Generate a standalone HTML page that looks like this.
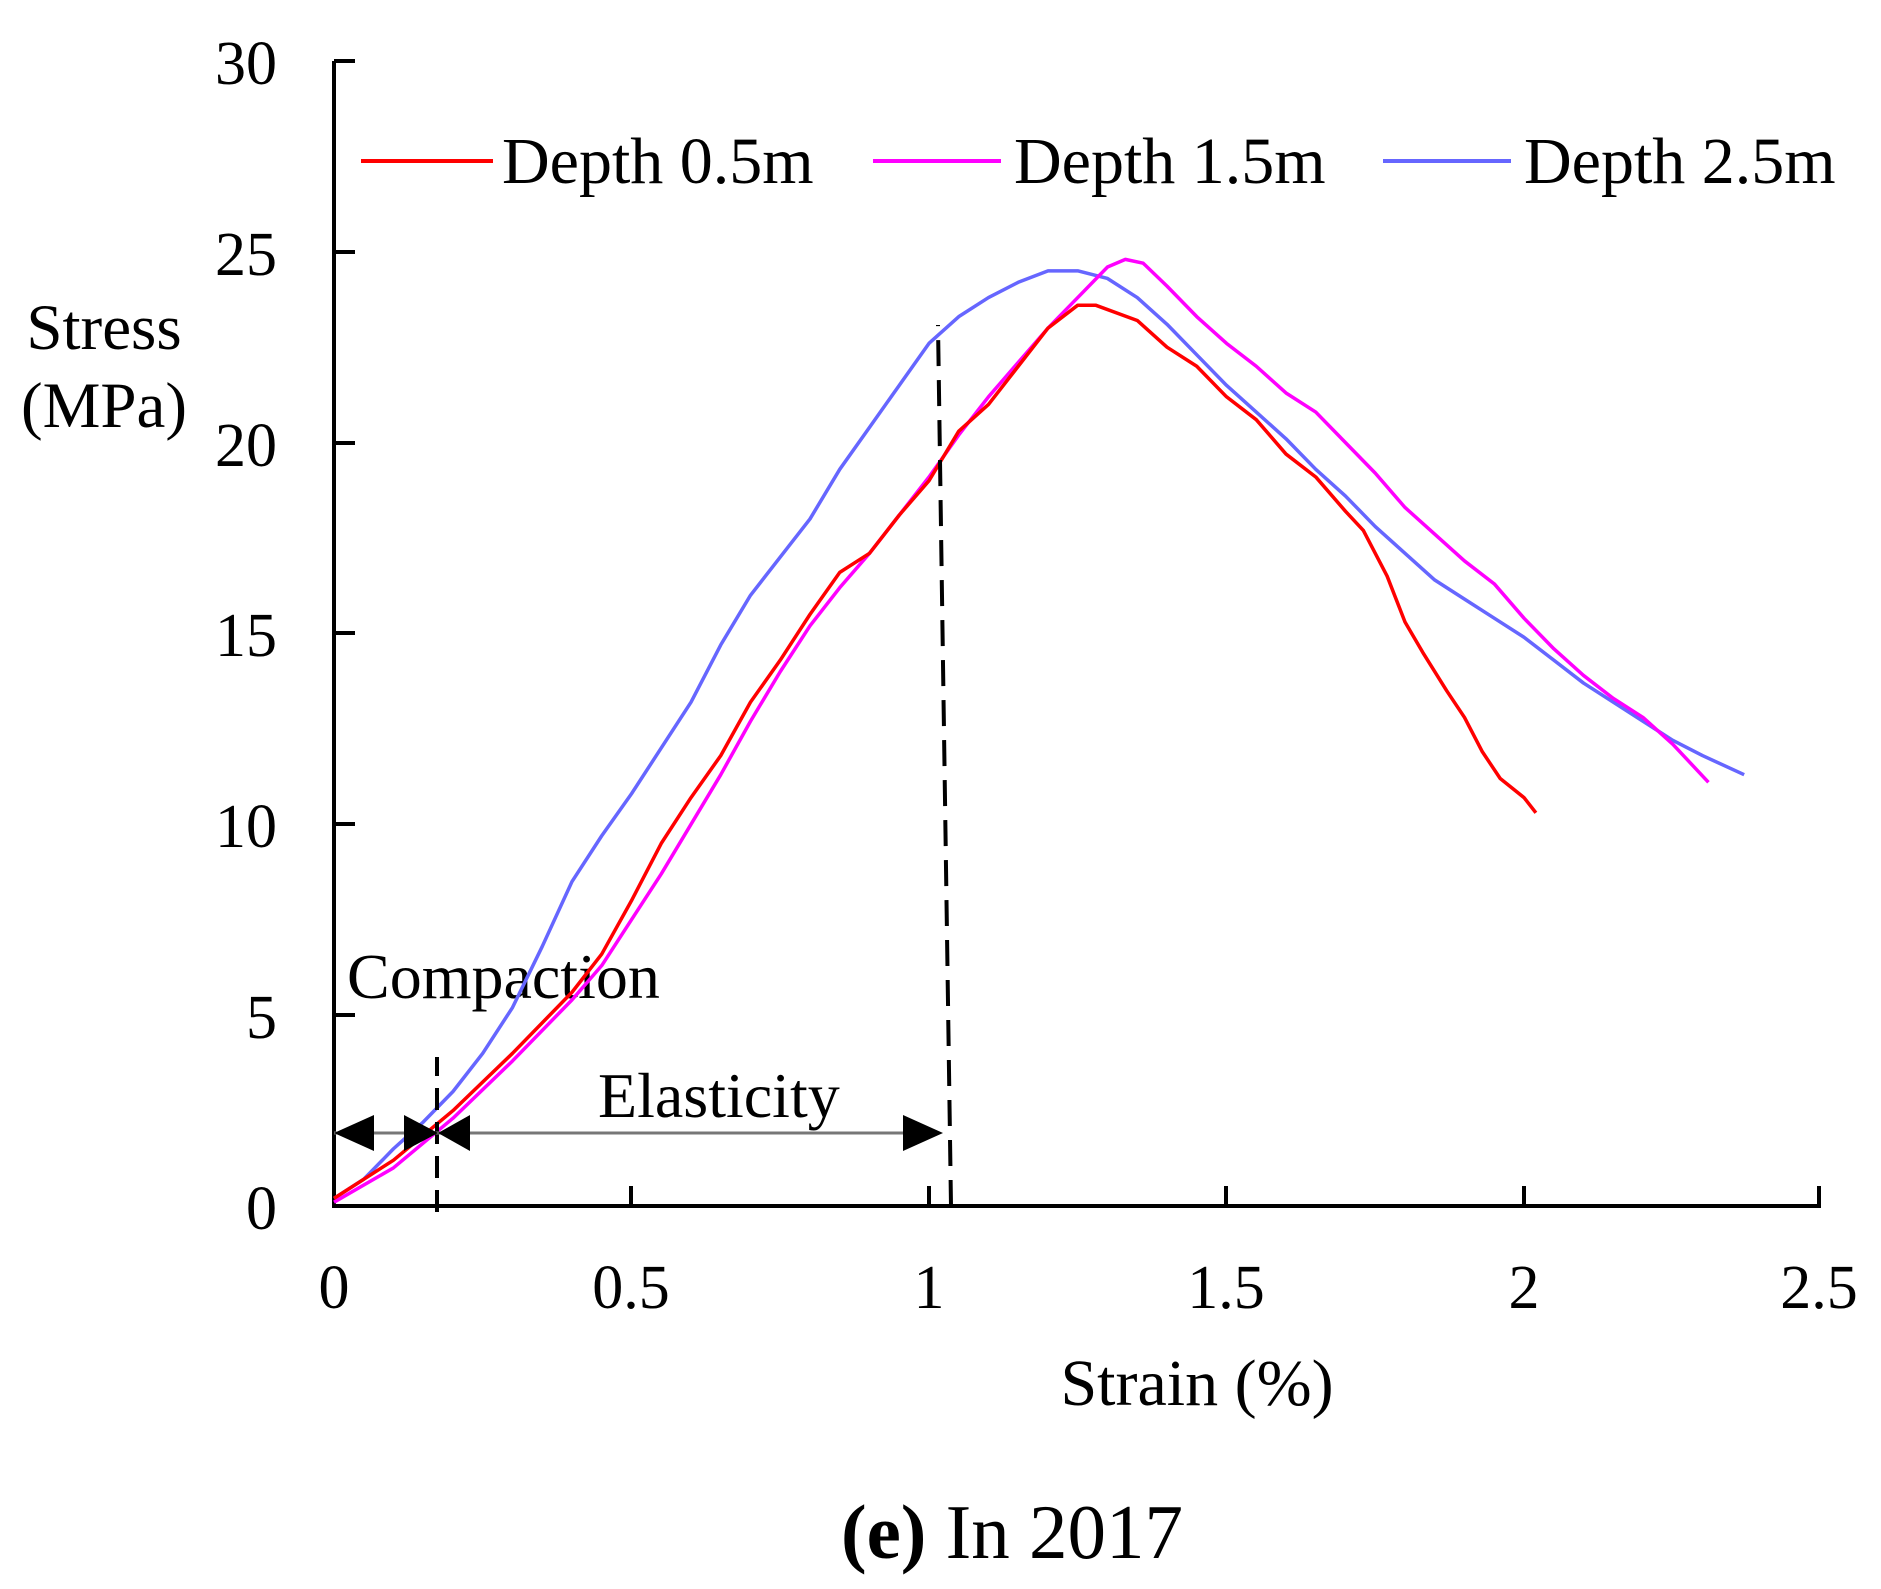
<!DOCTYPE html>
<html><head><style>body{margin:0;background:#fff}svg{display:block}text{font-family:"Liberation Serif",serif;fill:#000}</style></head>
<body>
<svg width="1881" height="1589" viewBox="0 0 1881 1589" xmlns="http://www.w3.org/2000/svg">
<g stroke="#000" stroke-width="4" fill="none">
<path d="M334,61 V1206 H1819 V1186"/>
<path d="M334,61 H355 M334,252 H355 M334,443 H355 M334,633 H355 M334,824 H355 M334,1015 H355"/>
<path d="M631,1206 V1186 M929,1206 V1186 M1226,1206 V1186 M1524,1206 V1186"/>
</g>
<g font-size="62" text-anchor="end">
<text x="277" y="84">30</text><text x="277" y="275">25</text><text x="277" y="466">20</text>
<text x="277" y="656">15</text><text x="277" y="847">10</text><text x="277" y="1038">5</text><text x="277" y="1229">0</text>
</g>
<g font-size="62" text-anchor="middle">
<text x="334" y="1308">0</text><text x="631" y="1308">0.5</text><text x="929" y="1308">1</text>
<text x="1226" y="1308">1.5</text><text x="1524" y="1308">2</text><text x="1819" y="1308">2.5</text>
<text x="104" y="349" font-size="65">Stress</text><text x="104" y="427" font-size="65">(MPa)</text>
<text x="1197" y="1405" font-size="66">Strain (%)</text>
<text x="1012" y="1558" font-size="77"><tspan font-weight="bold">(e)</tspan> In 2017</text>
</g>
<g font-size="66">
<text x="502" y="183">Depth 0.5m</text><text x="1014" y="183">Depth 1.5m</text><text x="1524" y="183">Depth 2.5m</text>
<text x="347" y="998" font-size="64">Compaction</text><text x="598" y="1117" font-size="64">Elasticity</text>
</g>
<path d="M361,161H493" stroke="#f00" stroke-width="4"/>
<path d="M873,161H1001" stroke="#f0f" stroke-width="4"/>
<path d="M1383,161H1511" stroke="#66f" stroke-width="4"/>
<g transform="translate(334,1206) scale(595,-38.17)" fill="none">
<polyline vector-effect="non-scaling-stroke" stroke="#66f" stroke-width="3.5" stroke-linejoin="round" points="0,0.2 0.05,0.7 0.1,1.5 0.15,2.2 0.2,3 0.25,4 0.3,5.2 0.35,6.8 0.4,8.5 0.45,9.7 0.5,10.8 0.55,12 0.6,13.2 0.65,14.7 0.7,16 0.75,17 0.8,18 0.85,19.3 0.9,20.4 0.95,21.5 1.0,22.6 1.05,23.3 1.1,23.8 1.15,24.2 1.2,24.5 1.25,24.5 1.3,24.3 1.35,23.8 1.4,23.1 1.45,22.3 1.5,21.5 1.55,20.8 1.6,20.1 1.65,19.3 1.7,18.6 1.75,17.8 1.8,17.1 1.85,16.4 1.9,15.9 1.95,15.4 2.0,14.9 2.05,14.3 2.1,13.7 2.15,13.2 2.2,12.7 2.25,12.2 2.3,11.8 2.37,11.3"/>
<polyline vector-effect="non-scaling-stroke" stroke="#f0f" stroke-width="3.5" stroke-linejoin="round" points="0,0.1 0.1,1 0.2,2.3 0.3,3.8 0.4,5.4 0.45,6.3 0.5,7.5 0.55,8.7 0.6,10 0.65,11.3 0.7,12.7 0.75,14 0.8,15.2 0.85,16.2 0.9,17.1 0.95,18.1 1.0,19.1 1.05,20.2 1.1,21.2 1.15,22.1 1.2,23 1.25,23.8 1.3,24.6 1.33,24.8 1.36,24.7 1.4,24.1 1.45,23.3 1.5,22.6 1.55,22 1.6,21.3 1.65,20.8 1.7,20 1.75,19.2 1.8,18.3 1.85,17.6 1.9,16.9 1.95,16.3 2.0,15.4 2.05,14.6 2.1,13.9 2.15,13.3 2.2,12.8 2.25,12.1 2.31,11.1"/>
<polyline vector-effect="non-scaling-stroke" stroke="#f00" stroke-width="3.5" stroke-linejoin="round" points="0,0.2 0.1,1.2 0.2,2.5 0.3,4 0.4,5.6 0.45,6.6 0.5,8 0.55,9.5 0.6,10.7 0.65,11.8 0.7,13.2 0.75,14.3 0.8,15.5 0.85,16.6 0.9,17.1 0.95,18.1 1.0,19 1.05,20.3 1.1,21 1.15,22 1.2,23 1.25,23.6 1.28,23.6 1.35,23.2 1.4,22.5 1.45,22 1.5,21.2 1.55,20.6 1.6,19.7 1.65,19.1 1.7,18.2 1.73,17.7 1.77,16.5 1.8,15.3 1.83,14.5 1.87,13.5 1.9,12.8 1.93,11.9 1.96,11.2 2.0,10.7 2.02,10.3"/>
</g>
<path d="M437,1212 L437,1057" stroke="#000" stroke-width="4" stroke-dasharray="22,12" fill="none"/>
<path d="M951,1206 L938,325" stroke="#000" stroke-width="4" stroke-dasharray="26,14" fill="none"/>
<path d="M334,1133 H938" stroke="#777" stroke-width="3"/>
<g fill="#000">
<path d="M334,1133 L374,1115 L374,1151Z"/>
<path d="M438,1133 L404,1115 L404,1151Z"/>
<path d="M438,1133 L470,1115 L470,1151Z"/>
<path d="M943,1133 L903,1115 L903,1151Z"/>
</g>
</svg>
</body></html>
